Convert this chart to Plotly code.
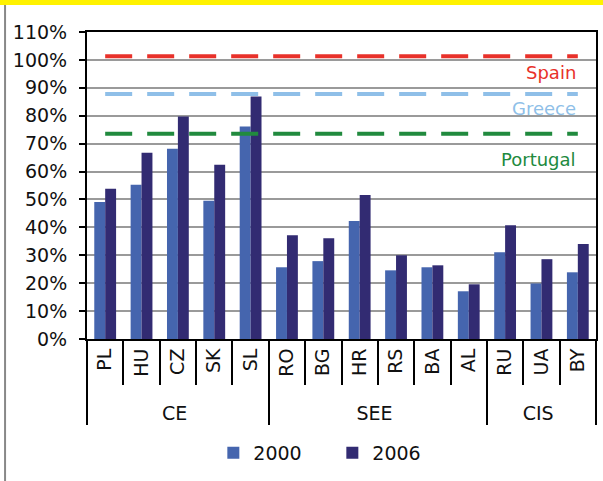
import plotly.graph_objects as go

groups = ["CE"] * 5 + ["SEE"] * 6 + ["CIS"] * 3
countries = ["PL", "HU", "CZ", "SK", "SL", "RO", "BG", "HR", "RS", "BA", "AL", "RU", "UA", "BY"]
v2000 = [49.1, 55.3, 68.2, 49.5, 76.1, 25.7, 27.9, 42.3, 24.6, 25.7, 17.1, 31.1, 19.9, 23.9]
v2006 = [53.8, 66.7, 79.7, 62.4, 86.9, 37.2, 36.1, 51.6, 30.0, 26.4, 19.6, 40.8, 28.6, 34.0]
ref_names = ["Spain", "Greece", "Portugal"]
ref_values = [101.3, 87.8, 73.5]
ref_colors = ["#E8312A", "#8FBFE8", "#218A3E"]
label_values = [95.5, 82.6, 64.2]
yticks = list(range(0, 111, 10))

FONT = "DejaVu Sans"
fig = go.Figure()
# a leading no-break space pads the rotated labels so the group row sits lower
country_labels = ["\u00a0" + c for c in countries]
x = [groups, country_labels]
fig.add_trace(go.Bar(x=x, y=v2000, name="2000", marker_color="#4565AE", marker_line_width=0))
fig.add_trace(go.Bar(x=x, y=v2006, name="2006", marker_color="#322B72", marker_line_width=0))

for name, val, col, lv in zip(ref_names, ref_values, ref_colors, label_values):
    fig.add_trace(go.Scatter(
        x=[[groups[0], groups[-1]], [country_labels[0], country_labels[-1]]], y=[val, val],
        mode="lines", line=dict(color=col, width=4, dash="27px,15px"),
        showlegend=False, hoverinfo="skip"))
    fig.add_annotation(x=0.9646, xref="paper", y=lv, yref="y", text=name,
                       showarrow=False, xanchor="right", yanchor="middle",
                       font=dict(family=FONT, size=18, color=col))

fig.update_layout(
    width=603, height=481, autosize=False,
    margin=dict(l=87, r=7, t=32, b=142),
    paper_bgcolor="white", plot_bgcolor="white",
    barmode="group", bargap=0.4, bargroupgap=0,
    font=dict(family=FONT, size=19, color="#111"),
    legend=dict(orientation="h", x=0.482, xanchor="center", y=-0.371, yanchor="middle",
                font=dict(family=FONT, size=19), entrywidth=74, traceorder="normal"),
    xaxis=dict(type="multicategory", automargin=False, showline=True, linecolor="black",
               linewidth=2, mirror=True,
               ticks="outside", tickson="boundaries", ticklen=44, tickwidth=2, tickcolor="black",
               tickangle=-90, showgrid=False, showdividers=True, dividercolor="black", dividerwidth=2,
               tickfont=dict(family=FONT, size=19)),
    yaxis=dict(range=[0, 110], tickvals=yticks, ticktext=[f"{v}%" for v in yticks],
               automargin=False, showline=True, linecolor="black", linewidth=2, mirror=True,
               ticks="outside", ticklen=6, tickwidth=2, tickcolor="black",
               showgrid=True, gridcolor="#9a9a9a", gridwidth=2, zeroline=False,
               ticklabelstandoff=8, tickfont=dict(family=FONT, size=19)),
    shapes=[
        dict(type="rect", xref="paper", yref="paper", x0=-0.2, x1=1.02, y0=1.0879, y1=1.11,
             fillcolor="#FFF200", line_width=0, layer="above"),
        dict(type="line", xref="paper", yref="paper", x0=-0.161, x1=-0.161, y0=1.0879, y1=-0.47,
             line=dict(color="#888", width=2)),
    ],
)
fig.write_html("out.html", config={"displayModeBar": False},
               post_script="document.body.style.margin='0';")
